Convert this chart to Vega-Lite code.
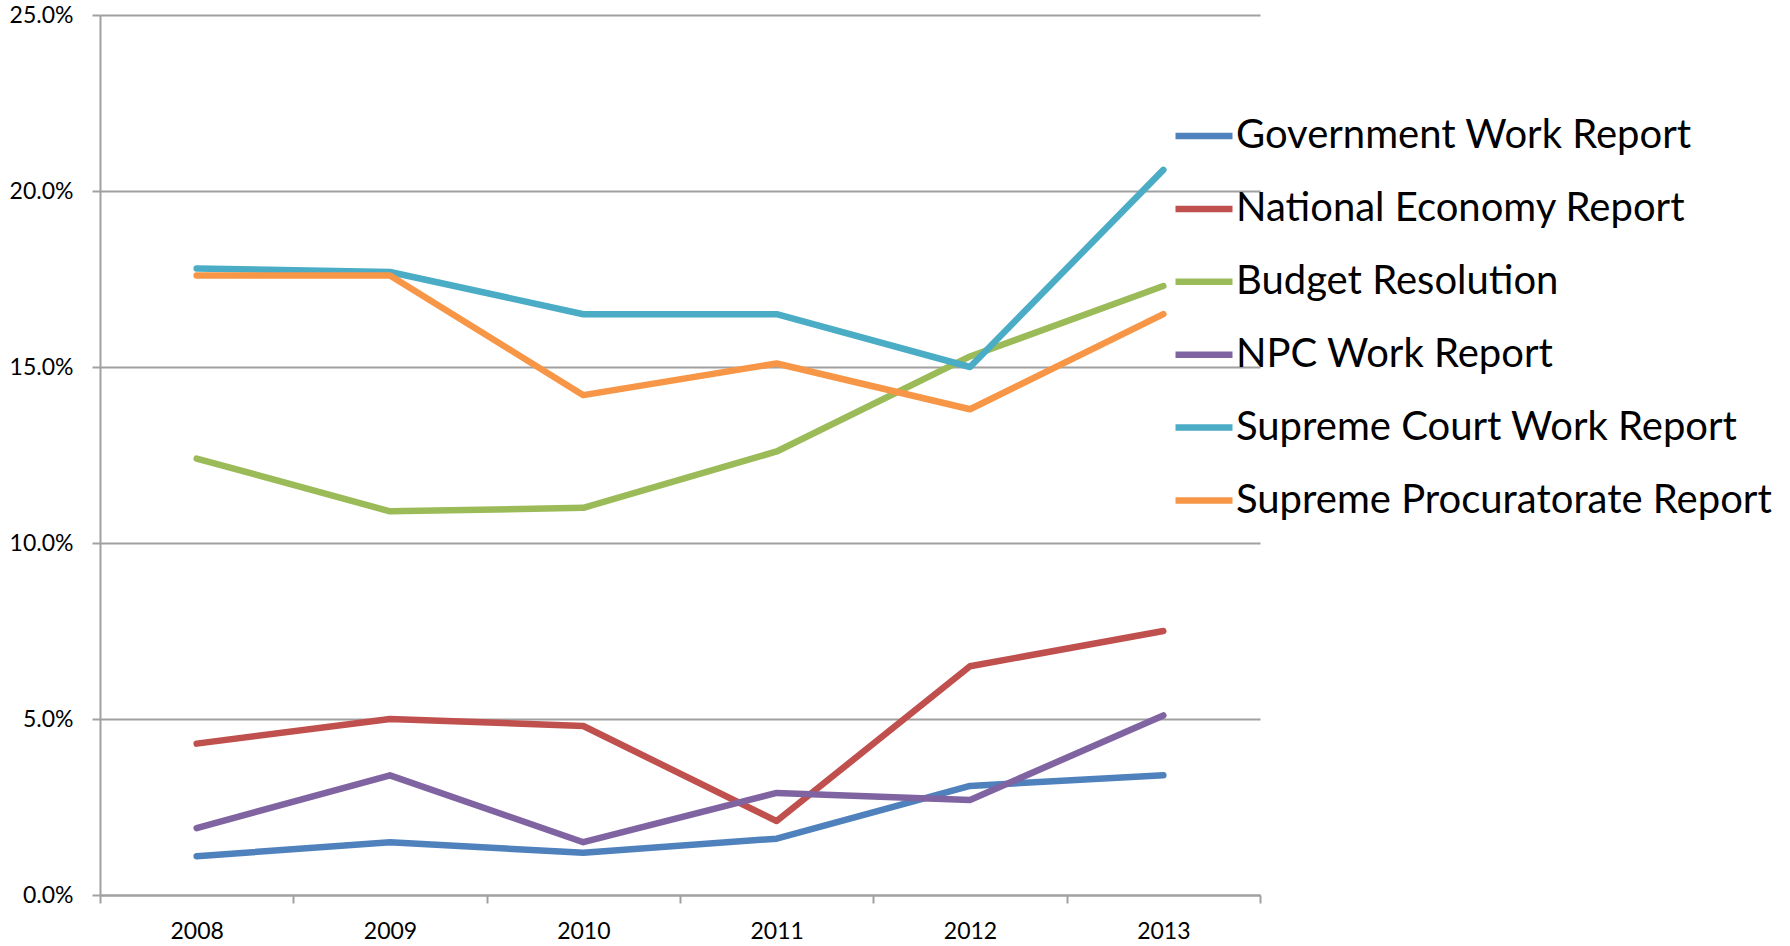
{
  "$schema": "https://vega.github.io/schema/vega-lite/v6.json",
  "width": 1160,
  "height": 880,
  "autosize": {"type": "none"},
  "padding": {"left": 100, "top": 15, "right": 530, "bottom": 51},
  "background": "white",
  "config": {"view": {"stroke": null}, "font": "Lato"},
  "data": {
    "values": [
      {"year": "2008", "series": "Government Work Report", "value": 0.011},
      {"year": "2009", "series": "Government Work Report", "value": 0.015},
      {"year": "2010", "series": "Government Work Report", "value": 0.012},
      {"year": "2011", "series": "Government Work Report", "value": 0.016},
      {"year": "2012", "series": "Government Work Report", "value": 0.031},
      {"year": "2013", "series": "Government Work Report", "value": 0.034},
      {"year": "2008", "series": "National Economy Report", "value": 0.043},
      {"year": "2009", "series": "National Economy Report", "value": 0.050},
      {"year": "2010", "series": "National Economy Report", "value": 0.048},
      {"year": "2011", "series": "National Economy Report", "value": 0.021},
      {"year": "2012", "series": "National Economy Report", "value": 0.065},
      {"year": "2013", "series": "National Economy Report", "value": 0.075},
      {"year": "2008", "series": "Budget Resolution", "value": 0.124},
      {"year": "2009", "series": "Budget Resolution", "value": 0.109},
      {"year": "2010", "series": "Budget Resolution", "value": 0.110},
      {"year": "2011", "series": "Budget Resolution", "value": 0.126},
      {"year": "2012", "series": "Budget Resolution", "value": 0.153},
      {"year": "2013", "series": "Budget Resolution", "value": 0.173},
      {"year": "2008", "series": "NPC Work Report", "value": 0.019},
      {"year": "2009", "series": "NPC Work Report", "value": 0.034},
      {"year": "2010", "series": "NPC Work Report", "value": 0.015},
      {"year": "2011", "series": "NPC Work Report", "value": 0.029},
      {"year": "2012", "series": "NPC Work Report", "value": 0.027},
      {"year": "2013", "series": "NPC Work Report", "value": 0.051},
      {"year": "2008", "series": "Supreme Court Work Report", "value": 0.178},
      {"year": "2009", "series": "Supreme Court Work Report", "value": 0.177},
      {"year": "2010", "series": "Supreme Court Work Report", "value": 0.165},
      {"year": "2011", "series": "Supreme Court Work Report", "value": 0.165},
      {"year": "2012", "series": "Supreme Court Work Report", "value": 0.150},
      {"year": "2013", "series": "Supreme Court Work Report", "value": 0.206},
      {"year": "2008", "series": "Supreme Procuratorate Report", "value": 0.176},
      {"year": "2009", "series": "Supreme Procuratorate Report", "value": 0.176},
      {"year": "2010", "series": "Supreme Procuratorate Report", "value": 0.142},
      {"year": "2011", "series": "Supreme Procuratorate Report", "value": 0.151},
      {"year": "2012", "series": "Supreme Procuratorate Report", "value": 0.138},
      {"year": "2013", "series": "Supreme Procuratorate Report", "value": 0.165}
    ]
  },
  "mark": {"type": "line", "strokeWidth": 6.5, "strokeCap": "round", "strokeJoin": "round"},
  "encoding": {
    "x": {
      "field": "year",
      "type": "ordinal",
      "scale": {"type": "band", "paddingInner": 0, "paddingOuter": 0},
      "axis": {
        "title": null,
        "labelAngle": 0,
        "labelFontSize": 23,
        "labelColor": "black",
        "labelPadding": 17,
        "tickBand": "extent",
        "tickSize": 8,
        "tickColor": "#A0A0A0",
        "tickWidth": 2,
        "domainColor": "#A0A0A0",
        "domainWidth": 2,
        "grid": false
      }
    },
    "y": {
      "field": "value",
      "type": "quantitative",
      "scale": {"domain": [0, 0.25], "nice": false},
      "axis": {
        "title": null,
        "values": [0, 0.05, 0.1, 0.15, 0.2, 0.25],
        "format": ".1%",
        "labelFontSize": 23,
        "labelColor": "black",
        "labelPadding": 19,
        "tickSize": 8,
        "tickColor": "#A0A0A0",
        "tickWidth": 2,
        "domainColor": "#A0A0A0",
        "domainWidth": 2,
        "grid": true,
        "gridColor": "#A0A0A0",
        "gridWidth": 2
      }
    },
    "color": {
      "field": "series",
      "type": "nominal",
      "scale": {
        "domain": ["Government Work Report", "National Economy Report", "Budget Resolution", "NPC Work Report", "Supreme Court Work Report", "Supreme Procuratorate Report"],
        "range": ["#4F81BD", "#C0504D", "#9BBB59", "#8064A2", "#4BACC6", "#F79646"]
      },
      "legend": {
        "title": null,
        "orient": "none",
        "legendX": 1072,
        "legendY": 89,
        "symbolType": "stroke",
        "symbolSize": 3249,
        "symbolStrokeWidth": 6.5,
        "labelFontSize": 40,
        "labelColor": "black",
        "labelOffset": 0,
        "labelLimit": 700,
        "rowPadding": 20.9
      }
    }
  }
}
